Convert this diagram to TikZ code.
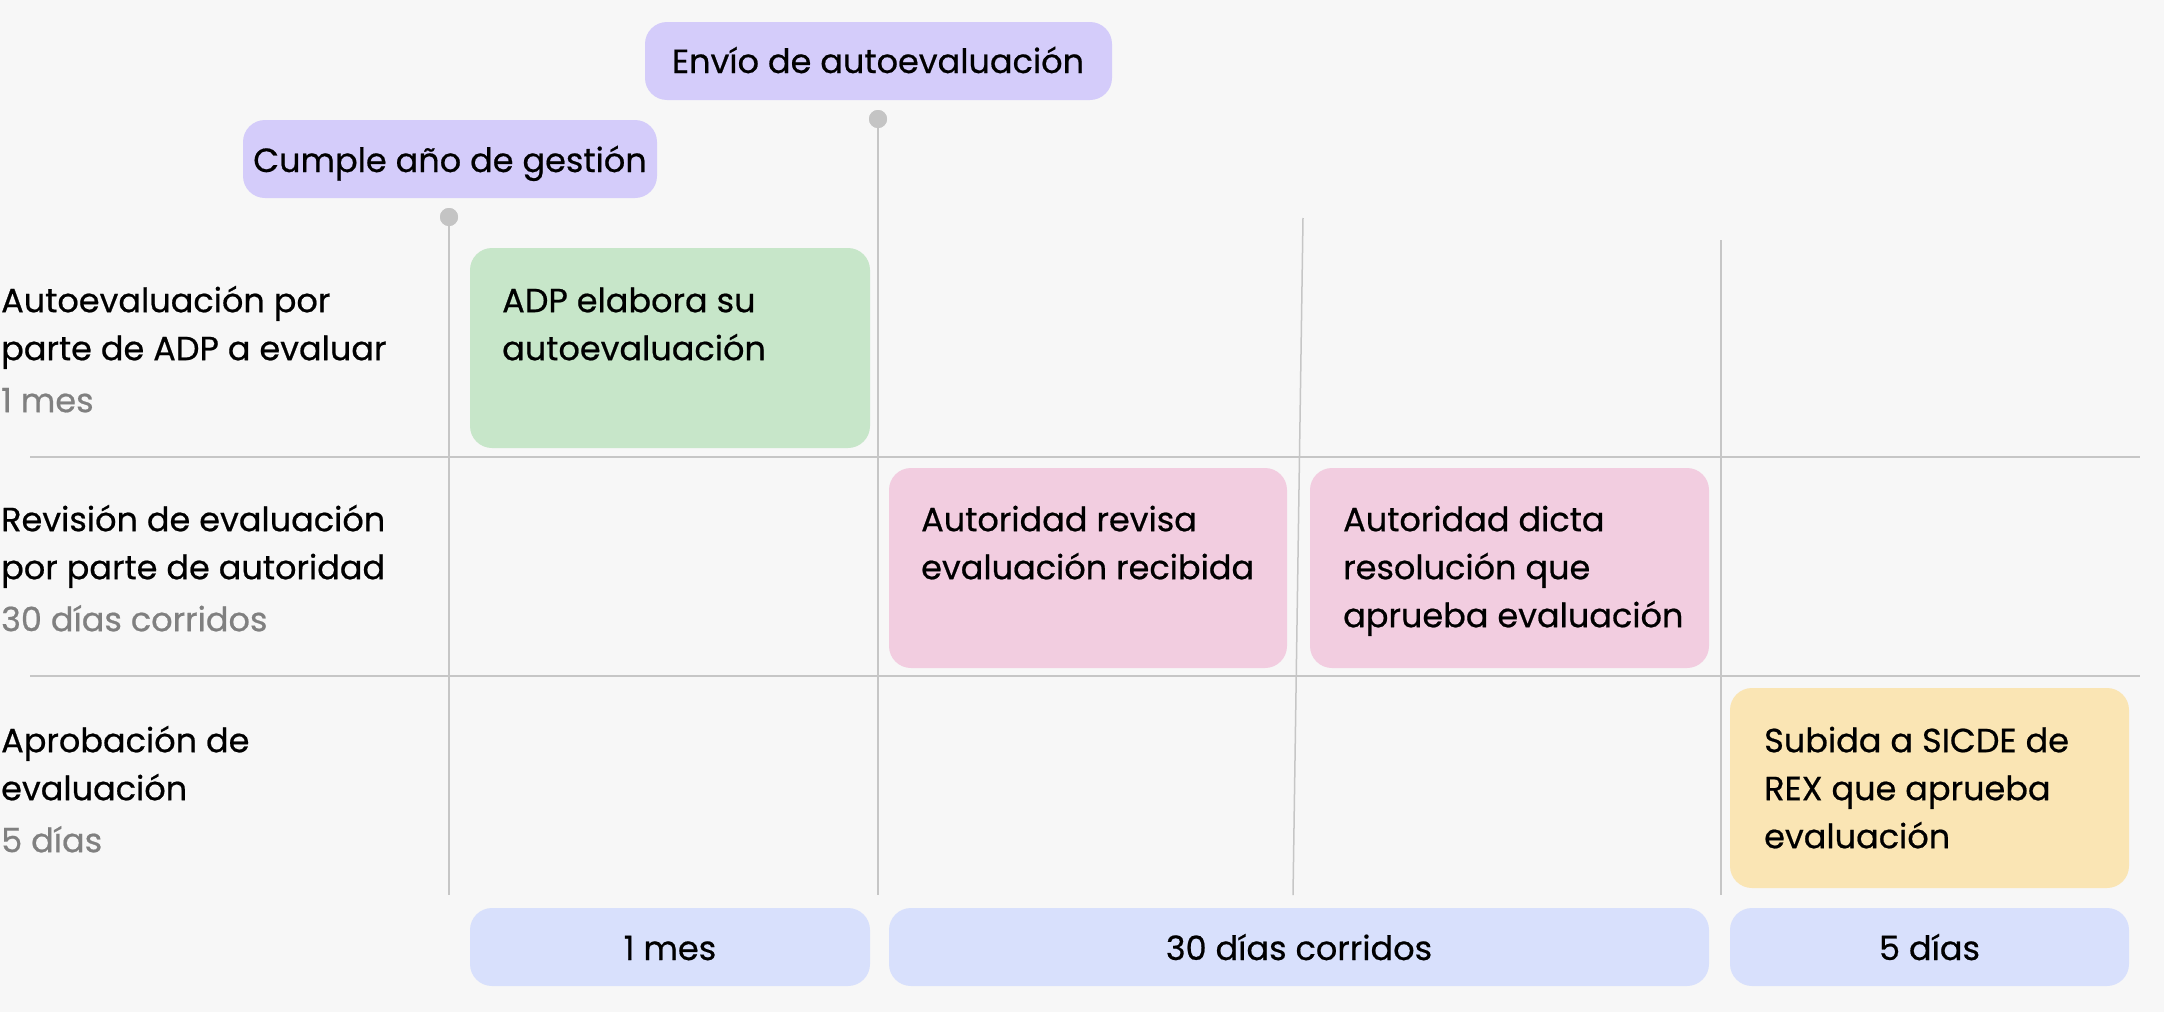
\documentclass[tikz,border=0pt]{standalone}
\usepackage{fontspec}
\setmainfont{Poppins}[FakeBold=0.6]
\definecolor{bg}{RGB}{247,247,247}
\definecolor{lav}{RGB}{212,204,250}
\definecolor{grn}{RGB}{199,230,201}
\definecolor{pnk}{RGB}{242,205,224}
\definecolor{ylw}{RGB}{250,229,180}
\definecolor{blu}{RGB}{216,224,252}
\definecolor{rule}{RGB}{198,198,198}
\definecolor{dotc}{RGB}{196,196,196}
\definecolor{subt}{RGB}{128,128,128}
\begin{document}
\begin{tikzpicture}[x=1pt,y=-1pt,
  box/.style={rounded corners=22pt, draw=none},
  txt/.style={inner sep=0pt, align=left, anchor=north west, font=\fontsize{33.5}{48}\selectfont, text=black},
  lbl/.style={inner sep=0pt, anchor=base, font=\fontsize{33.5}{48}\selectfont, text=black},
  hrule/.style={draw=rule, line width=2.5pt},
  vrule/.style={draw=rule, line width=1.5pt},
  dotn/.style={circle, fill=dotc, inner sep=0pt, minimum size=18pt}
]
\useasboundingbox[fill=bg] (0,0) rectangle (2164,1012);

% horizontal rules
\coordinate (h1a) at (30,457); \coordinate (h1b) at (2140,457);
\coordinate (h2a) at (30,676); \coordinate (h2b) at (2140,676);
\draw[hrule] (h1a) -- (h1b);
\draw[hrule] (h2a) -- (h2b);

% vertical rules
\node[dotn] (d1) at (449,217) {};
\node[dotn] (d2) at (878,119) {};
\coordinate (b1) at (449,895);
\coordinate (b2) at (878,895);
\coordinate (t3) at (1303,218); \coordinate (b3) at (1293,895);
\coordinate (t4) at (1721,240); \coordinate (b4) at (1721,895);
\draw[vrule] (d1.center) -- (b1);
\draw[vrule] (d2.center) -- (b2);
\draw[vrule] (t3) -- (b3);
\draw[vrule] (t4) -- (b4);
\node[dotn] at (d1) {};
\node[dotn] at (d2) {};

% top milestone boxes
\fill[box, fill=lav] (645,22) rectangle (1112,100);
\node[lbl] (envio) at (878,73) {Envío de autoevaluación};
\fill[box, fill=lav] (243,120) rectangle (657,198);
\node[lbl] (cumple) at (450,172) {Cumple año de gestión};

% row labels
\node[txt] (r1) at (1,278.4) {\strut Autoevaluación por\\parte de ADP a evaluar\\[4pt]\textcolor{subt}{1 mes}};
\node[txt] (r2) at (1,497.4) {\strut Revisión de evaluación\\por parte de autoridad\\[4pt]\textcolor{subt}{30 días corridos}};
\node[txt] (r3) at (1,718.4) {\strut Aprobación de\\evaluación\\[4pt]\textcolor{subt}{5 días}};

% task boxes
\fill[box, fill=grn] (470,248) rectangle (870,448);
\node[txt] (t1) at (502,278.4) {\strut ADP elabora su\\autoevaluación};
\fill[box, fill=pnk] (889,468) rectangle (1287,668);
\node[txt] (t2) at (921,497.4) {\strut Autoridad revisa\\evaluación recibida};
\fill[box, fill=pnk] (1310,468) rectangle (1709,668);
\node[txt] (t3n) at (1343,497.4) {\strut Autoridad dicta\\resolución que\\aprueba evaluación};
\fill[box, fill=ylw] (1730,688) rectangle (2129,888);
\node[txt] (t4n) at (1764,718.4) {\strut Subida a SICDE de\\REX que aprueba\\evaluación};

% duration boxes
\fill[box, fill=blu] (470,908) rectangle (870,986);
\node[lbl] (p1) at (670,960) {1 mes};
\fill[box, fill=blu] (889,908) rectangle (1709,986);
\node[lbl] (p2) at (1299,960) {30 días corridos};
\fill[box, fill=blu] (1730,908) rectangle (2129,986);
\node[lbl] (p3) at (1929.5,960) {5 días};
\end{tikzpicture}
\end{document}
